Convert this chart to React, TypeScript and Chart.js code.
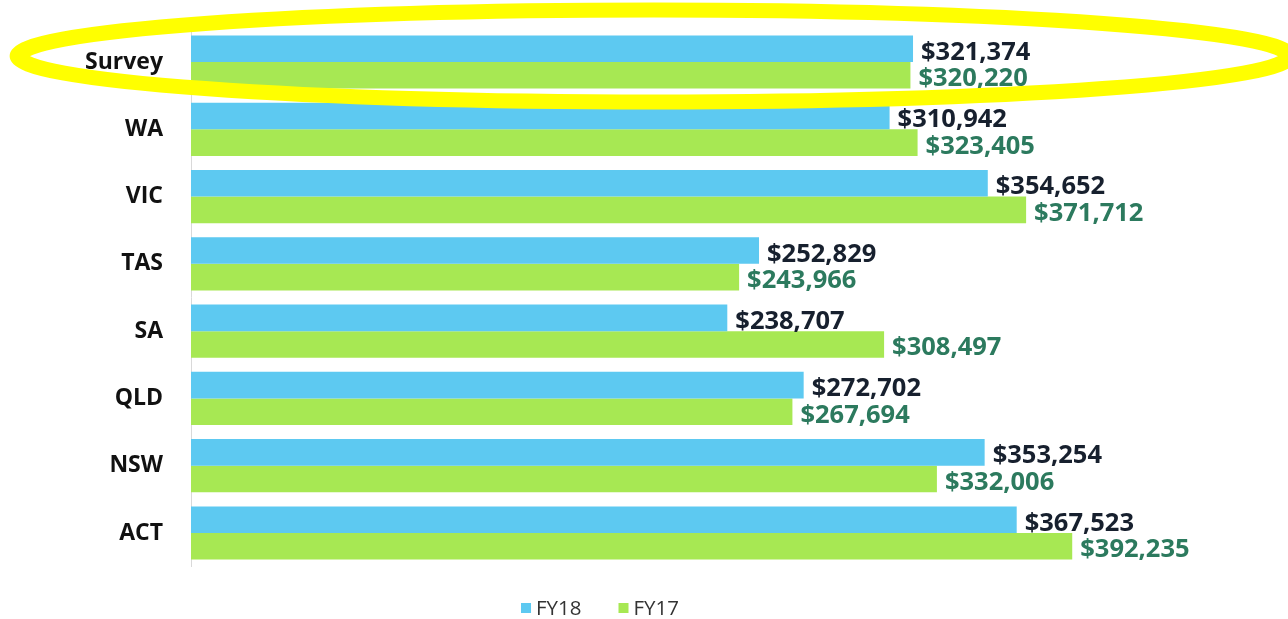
import React, { useEffect, useRef } from 'react';
import { Chart, registerables } from 'chart.js';

Chart.register(...registerables);

const categories = ['Survey', 'WA', 'VIC', 'TAS', 'SA', 'QLD', 'NSW', 'ACT'];
const seriesLabels = ['FY18', 'FY17'];
const fy18 = [321374, 310942, 354652, 252829, 238707, 272702, 353254, 367523];
const fy17 = [320220, 323405, 371712, 243966, 308497, 267694, 332006, 392235];

const barColors = ['#5DC9F1', '#A7E853'];
const valueColors = ['#17202e', '#2c7a5e'];
const FONT = "'Open Sans', 'Noto Sans', sans-serif";

const valueLabels = {
  id: 'valueLabels',
  afterDatasetsDraw(chart: any) {
    const ctx = chart.ctx;
    ctx.save();
    ctx.font = `700 25.5px ${FONT}`;
    ctx.textAlign = 'left';
    ctx.textBaseline = 'alphabetic';
    chart.data.datasets.forEach((ds: any, di: number) => {
      const meta = chart.getDatasetMeta(di);
      meta.data.forEach((bar: any, i: number) => {
        const v = ds.data[i] as number;
        ctx.fillStyle = valueColors[di];
        ctx.fillText('$' + v.toLocaleString('en-US'), bar.x + 8, bar.y + 11);
      });
    });
    ctx.restore();
  },
};

const bottomLegend = {
  id: 'bottomLegend',
  afterDraw(chart: any) {
    const ctx = chart.ctx;
    ctx.save();
    ctx.font = `400 20.5px ${FONT}`;
    const box = 10;
    const gap = 5;
    const itemGap = 37;
    const items = chart.data.datasets.map((ds: any) => ({
      text: ds.label,
      color: ds.backgroundColor,
      w: ctx.measureText(ds.label).width,
    }));
    const total = items.reduce((s: number, it: any) => s + box + gap + it.w, 0) + itemGap * (items.length - 1);
    let x = 600 - total / 2;
    const cy = 608;
    items.forEach((it: any) => {
      ctx.fillStyle = it.color;
      ctx.fillRect(x, cy - box / 2, box, box);
      ctx.fillStyle = '#333333';
      ctx.textAlign = 'left';
      ctx.textBaseline = 'alphabetic';
      ctx.fillText(it.text, x + box + gap, cy + 7.4);
      x += box + gap + it.w + itemGap;
    });
    ctx.restore();
  },
};

const highlight = {
  id: 'highlight',
  afterDraw(chart: any) {
    const ctx = chart.ctx;
    const yScale = chart.scales.y;
    const cy = yScale.getPixelForValue(0) - 6;
    const cx = 654;
    const rx = 635;
    const ry = 46;
    const sx = 1.25;
    ctx.save();
    ctx.translate(cx, cy);
    ctx.scale(sx, 1);
    ctx.beginPath();
    ctx.ellipse(0, 0, rx / sx, ry, 0, 0, Math.PI * 2);
    ctx.lineWidth = 15;
    ctx.strokeStyle = '#FFFF00';
    ctx.stroke();
    ctx.restore();
  },
};

export default function App() {
  const ref = useRef<HTMLCanvasElement>(null);
  useEffect(() => {
    document.body.style.margin = '0';
    const canvas = ref.current!;
    const chart = new Chart(canvas, {
      type: 'bar',
      data: {
        labels: categories,
        datasets: [
          { label: seriesLabels[0], data: fy18, backgroundColor: barColors[0], borderWidth: 0 },
          { label: seriesLabels[1], data: fy17, backgroundColor: barColors[1], borderWidth: 0 },
        ],
      },
      options: {
        indexAxis: 'y',
        responsive: false,
        animation: false,
        devicePixelRatio: 1,
        layout: { padding: { top: 28.4, bottom: 52.4, left: 0, right: 86 } },
        datasets: { bar: { categoryPercentage: 0.79, barPercentage: 1.0 } },
        plugins: {
          legend: { display: false },
          tooltip: { enabled: false },
        },
        scales: {
          x: {
            display: false,
            min: 0,
            max: 450000,
            grid: { display: false },
          },
          y: {
            grid: { display: false, drawTicks: false },
            border: { display: true, color: '#d9d9d9', width: 1 },
            ticks: {
              padding: 28,
              color: '#111111',
              font: { family: FONT, size: 23, weight: 'bold' },
            },
            afterFit(scale: any) {
              scale.width = 191;
              scale.paddingTop = 0;
              scale.paddingBottom = 0;
            },
          },
        },
      },
      plugins: [valueLabels, bottomLegend, highlight],
    } as any);
    return () => chart.destroy();
  }, []);
  return (
    <div style={{ width: 1288, height: 619 }}>
      <canvas ref={ref} width={1288} height={619} style={{ display: 'block' }} />
    </div>
  );
}
